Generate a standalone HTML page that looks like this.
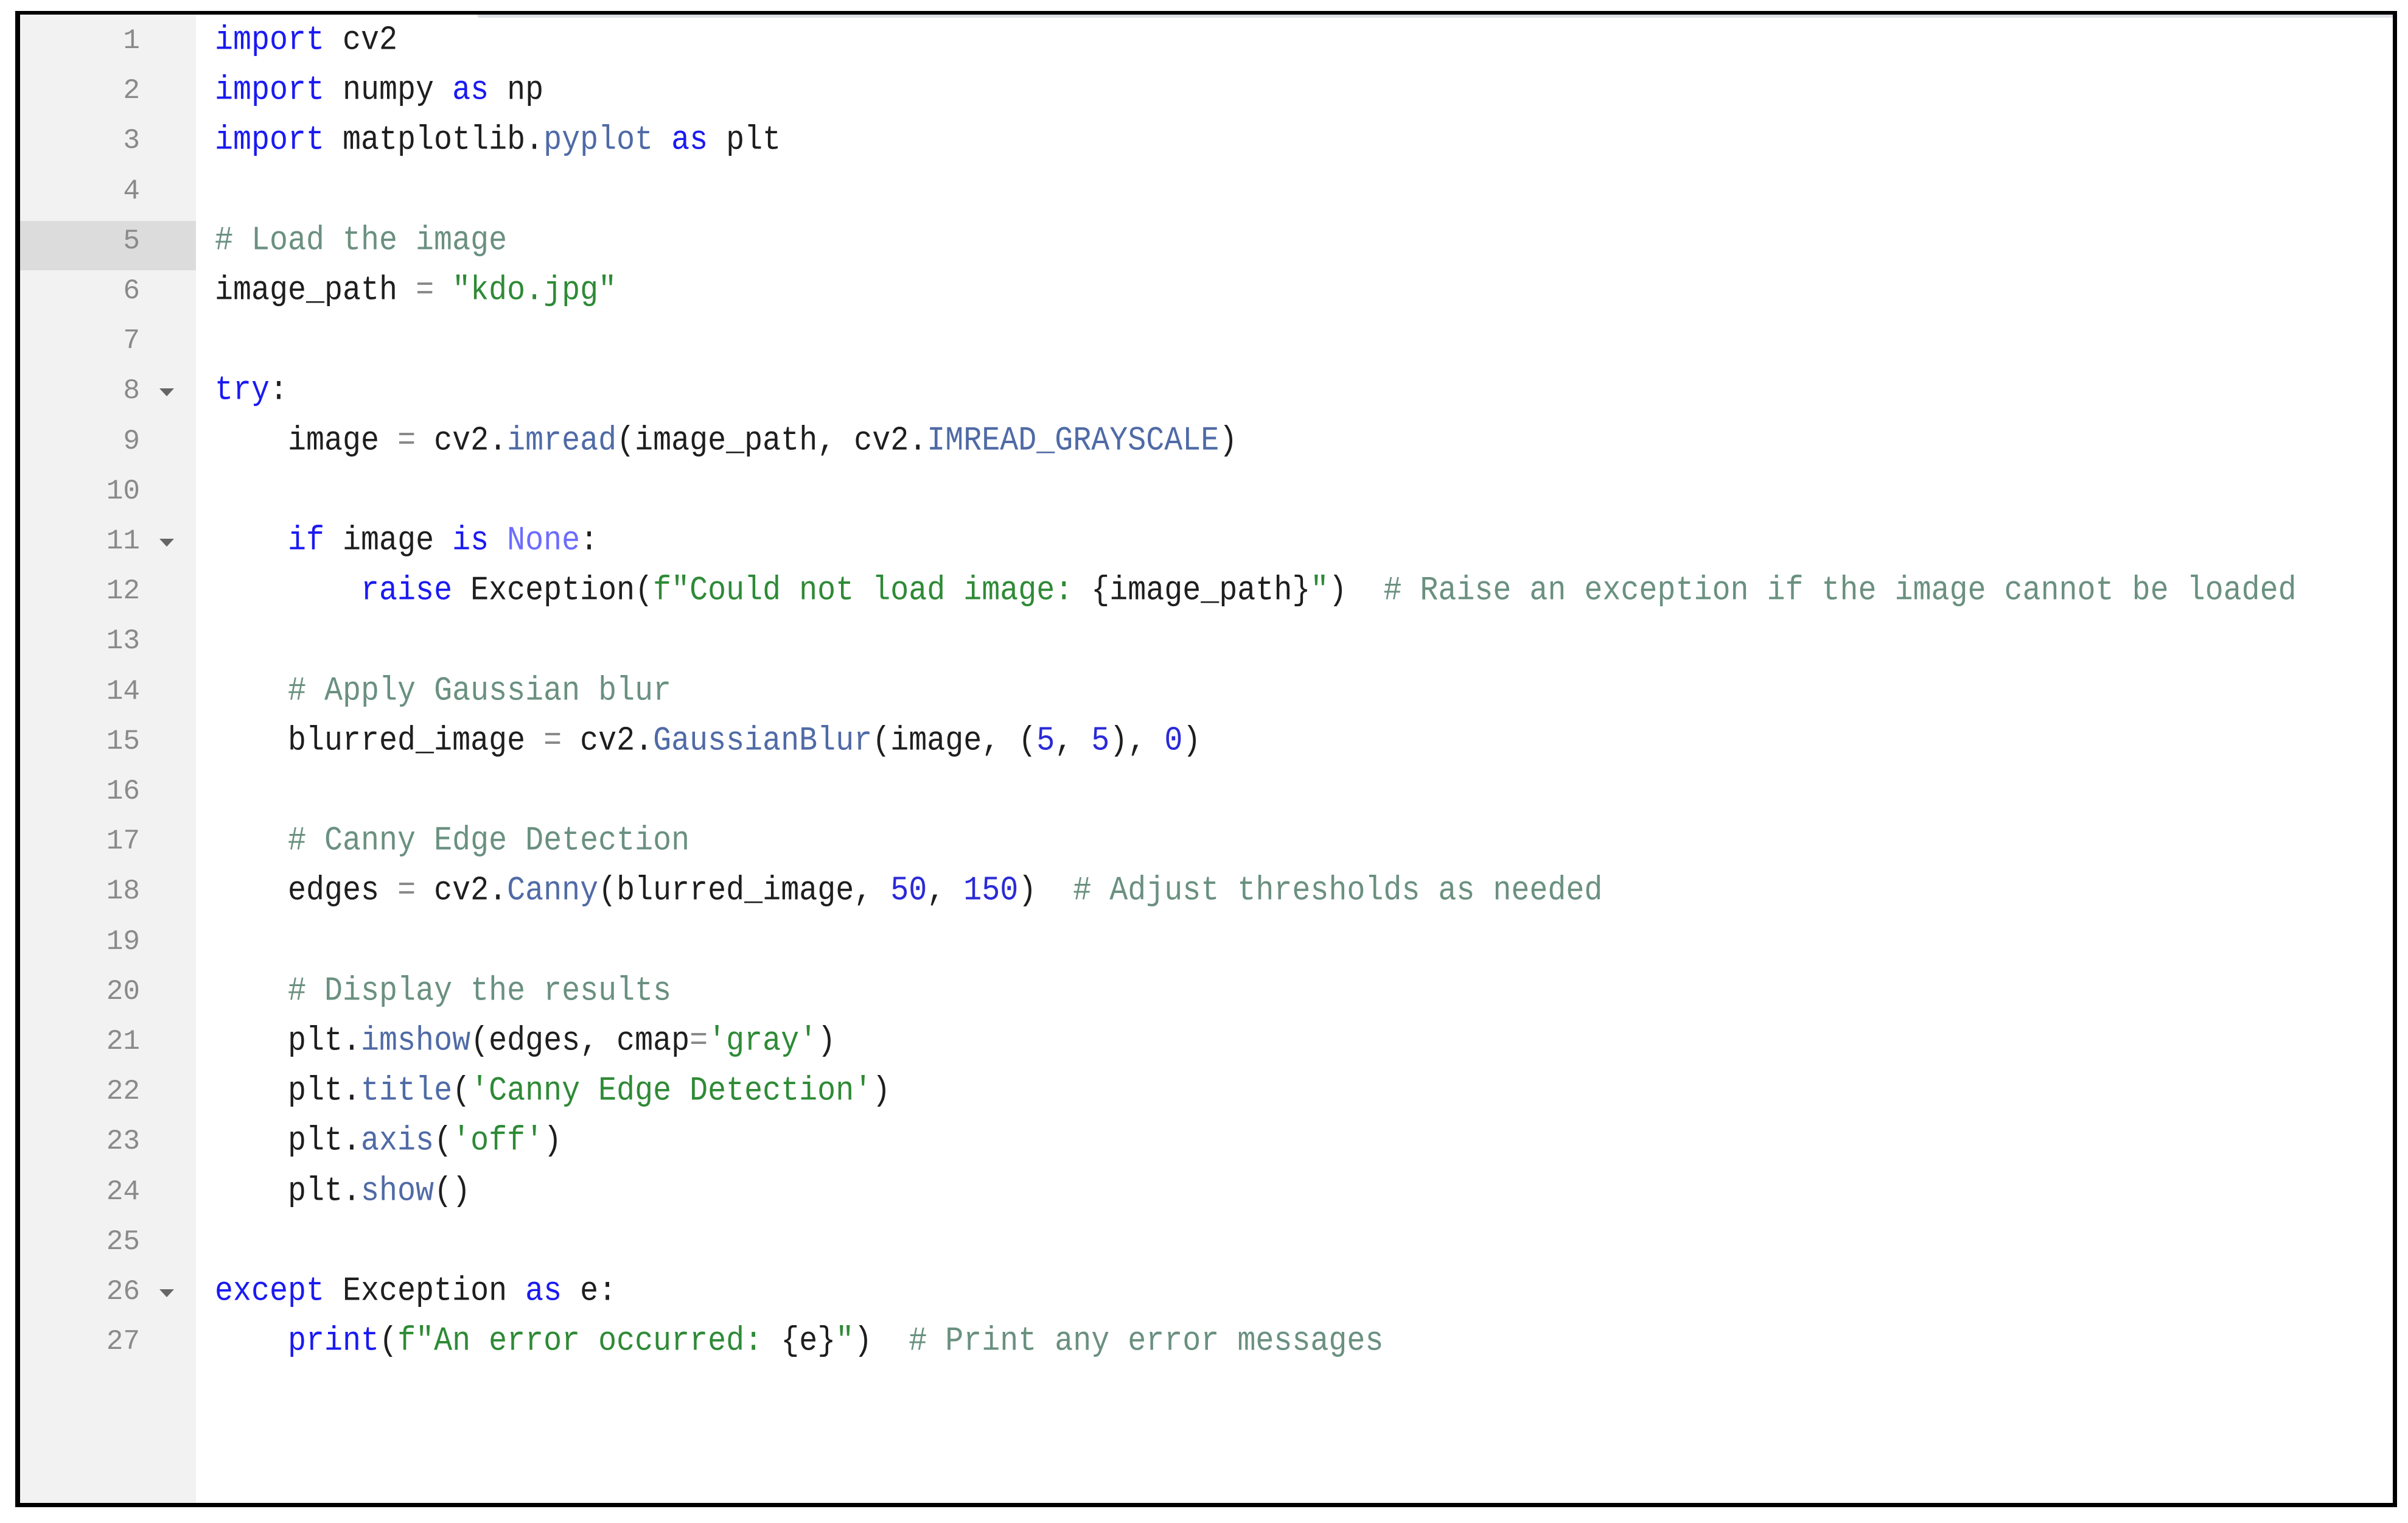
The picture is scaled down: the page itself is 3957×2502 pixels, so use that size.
<!DOCTYPE html>
<html><head><meta charset="utf-8"><style>
html,body{margin:0;padding:0;background:#fff;}
body{width:3957px;height:2502px;position:relative;overflow:hidden;font-family:"Liberation Mono",monospace;}
#frame{position:absolute;left:25px;top:18px;width:3914px;height:2458px;box-sizing:border-box;border-left:8px solid #000;border-top:6px solid #000;border-right:7px solid #000;border-bottom:7px solid #000;}
#gutter{position:absolute;left:33px;top:24px;width:289px;height:2445px;background:#f2f2f2;}
#hl{position:absolute;left:33px;top:363px;width:289px;height:81px;background:#dcdcdc;}
#strip{position:absolute;left:785px;top:24px;width:3147px;height:5px;background:#dde0e6;}
.ln{position:absolute;left:33px;width:197px;text-align:right;font-size:46px;color:#8a8a8a;line-height:82px;height:82px;}
.cd{position:absolute;left:353px;font-size:50px;color:#1e1e1e;line-height:82px;height:82px;white-space:pre;transform:scaleY(1.12);transform-origin:50% 50%;}
.fold{position:absolute;left:262px;width:0;height:0;border-left:12px solid transparent;border-right:12px solid transparent;border-top:13px solid #666;}
.k{color:#1a1af2}.c{color:#6a9080}.s{color:#2e8a36}.n{color:#2a2ad8}.f{color:#4f6aa6}.o{color:#8a8a8a}.nn{color:#6c6cff}
</style></head><body>
<div id="gutter"></div><div id="hl"></div><div id="strip"></div>
<div id="frame"></div>

<div class="ln" style="top:26px">1</div>
<div class="ln" style="top:108px">2</div>
<div class="ln" style="top:190px">3</div>
<div class="ln" style="top:273px">4</div>
<div class="ln" style="top:355px">5</div>
<div class="ln" style="top:437px">6</div>
<div class="ln" style="top:519px">7</div>
<div class="ln" style="top:601px">8</div>
<div class="ln" style="top:684px">9</div>
<div class="ln" style="top:766px">10</div>
<div class="ln" style="top:848px">11</div>
<div class="ln" style="top:930px">12</div>
<div class="ln" style="top:1012px">13</div>
<div class="ln" style="top:1095px">14</div>
<div class="ln" style="top:1177px">15</div>
<div class="ln" style="top:1259px">16</div>
<div class="ln" style="top:1341px">17</div>
<div class="ln" style="top:1423px">18</div>
<div class="ln" style="top:1506px">19</div>
<div class="ln" style="top:1588px">20</div>
<div class="ln" style="top:1670px">21</div>
<div class="ln" style="top:1752px">22</div>
<div class="ln" style="top:1834px">23</div>
<div class="ln" style="top:1917px">24</div>
<div class="ln" style="top:1999px">25</div>
<div class="ln" style="top:2081px">26</div>
<div class="ln" style="top:2163px">27</div>

<div class="fold" style="top:638px"></div>
<div class="fold" style="top:885px"></div>
<div class="fold" style="top:2118px"></div>

<div class="cd" style="top:26px"><span class="k">import</span> cv2</div>
<div class="cd" style="top:108px"><span class="k">import</span> numpy <span class="k">as</span> np</div>
<div class="cd" style="top:190px"><span class="k">import</span> matplotlib.<span class="f">pyplot</span> <span class="k">as</span> plt</div>
<div class="cd" style="top:355px"><span class="c"># Load the image</span></div>
<div class="cd" style="top:437px">image_path <span class="o">=</span> <span class="s">"kdo.jpg"</span></div>
<div class="cd" style="top:601px"><span class="k">try</span>:</div>
<div class="cd" style="top:684px">    image <span class="o">=</span> cv2.<span class="f">imread</span>(image_path, cv2.<span class="f">IMREAD_GRAYSCALE</span>)</div>
<div class="cd" style="top:848px">    <span class="k">if</span> image <span class="k">is</span> <span class="nn">None</span>:</div>
<div class="cd" style="top:930px">        <span class="k">raise</span> Exception(<span class="s">f"Could not load image: </span>{image_path}<span class="s">"</span>)  <span class="c"># Raise an exception if the image cannot be loaded</span></div>
<div class="cd" style="top:1095px">    <span class="c"># Apply Gaussian blur</span></div>
<div class="cd" style="top:1177px">    blurred_image <span class="o">=</span> cv2.<span class="f">GaussianBlur</span>(image, (<span class="n">5</span>, <span class="n">5</span>), <span class="n">0</span>)</div>
<div class="cd" style="top:1341px">    <span class="c"># Canny Edge Detection</span></div>
<div class="cd" style="top:1423px">    edges <span class="o">=</span> cv2.<span class="f">Canny</span>(blurred_image, <span class="n">50</span>, <span class="n">150</span>)  <span class="c"># Adjust thresholds as needed</span></div>
<div class="cd" style="top:1588px">    <span class="c"># Display the results</span></div>
<div class="cd" style="top:1670px">    plt.<span class="f">imshow</span>(edges, cmap<span class="o">=</span><span class="s">'gray'</span>)</div>
<div class="cd" style="top:1752px">    plt.<span class="f">title</span>(<span class="s">'Canny Edge Detection'</span>)</div>
<div class="cd" style="top:1834px">    plt.<span class="f">axis</span>(<span class="s">'off'</span>)</div>
<div class="cd" style="top:1917px">    plt.<span class="f">show</span>()</div>
<div class="cd" style="top:2081px"><span class="k">except</span> Exception <span class="k">as</span> e:</div>
<div class="cd" style="top:2163px">    <span class="k">print</span>(<span class="s">f"An error occurred: </span>{e}<span class="s">"</span>)  <span class="c"># Print any error messages</span></div>
</body></html>
